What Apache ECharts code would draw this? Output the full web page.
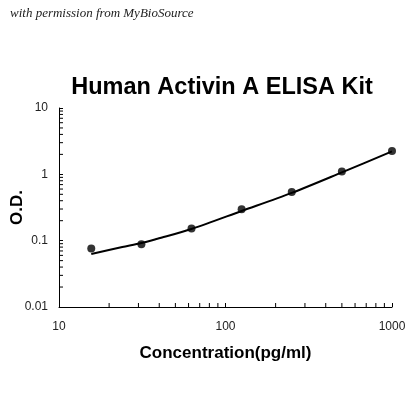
<!DOCTYPE html>
<html style="height: 100%">
<head>
<meta charset="utf-8">
<script src="https://cdn.jsdelivr.net/npm/echarts@6/dist/echarts.min.js"></script>
<title>Human Activin A ELISA Kit</title>
</head>
<body style="height: 100%; margin: 0; background: #fff">
<div id="container" style="width: 420px; height: 420px"></div>
<script type="text/javascript">

// standard points
let conc = [15.625, 31.25, 62.5, 125, 250, 500, 1000]
let od = [0.076, 0.088, 0.152, 0.297, 0.543, 1.10, 2.25]

// fitted curve
let fitConc = [15.625, 24, 31.25, 39, 62.5, 125, 250, 500, 1000]
let fitOd = [0.063, 0.080, 0.092, 0.107, 0.150, 0.280, 0.525, 1.07, 2.22]

let xTicks = [10, 100, 1000]
let yTicks = [0.01, 0.1, 1, 10]
let minorSteps = [2, 3, 4, 5, 6, 7, 8, 9]

let points = conc.map((c, i) => [c, od[i]])
let fit = fitConc.map((c, i) => [c, fitOd[i]])

// minor tick positions, one per value inside each decade
let minorX = []
for (let d = 0; d < xTicks.length - 1; d++) {
    for (let s of minorSteps) minorX.push(xTicks[d] * s)
}
let minorY = []
for (let d = 0; d < yTicks.length - 1; d++) {
    for (let s of minorSteps) minorY.push(yTicks[d] * s)
}

let dom = document.getElementById("container")
let chart = echarts.init(dom)

chart.setOption({
    animation: false,
    backgroundColor: '#fff',
    graphic: [
        {
            type: 'text', left: 10, top: 7,
            style: {
                text: 'with permission from MyBioSource',
                font: 'italic 13px "Liberation Serif"',
                fill: '#222'
            }
        }
    ],
    title: {
        text: 'Human Activin A ELISA Kit',
        left: 217, top: 71, textAlign: 'center',
        textStyle: {fontFamily: 'Liberation Sans', fontWeight: 'bold', fontSize: 23.5, color: '#000'}
    },
    grid: {left: 59, right: 28, top: 108, bottom: 113, outerBoundsMode: 'none', containLabel: false},
    xAxis: {
        type: 'log', min: 10, max: 1000, logBase: 10,
        name: 'Concentration(pg/ml)', nameLocation: 'middle', nameGap: 38, nameMoveOverlap: false,
        nameTextStyle: {fontFamily: 'Liberation Sans', fontWeight: 'bold', fontSize: 17, color: '#000'},
        axisLine: {lineStyle: {color: '#000', width: 1}},
        axisTick: {inside: true, length: 4, lineStyle: {color: '#000'}},
        axisLabel: {fontFamily: 'Liberation Sans', fontSize: 12, color: '#222', margin: 14,
            formatter: v => String(v)},
        splitLine: {show: false}
    },
    yAxis: {
        type: 'log', min: 0.01, max: 10, logBase: 10,
        name: 'O.D.', nameLocation: 'middle', nameGap: 33, nameMoveOverlap: false,
        nameTextStyle: {fontFamily: 'Liberation Sans', fontWeight: 'bold', fontSize: 17, color: '#000'},
        axisLine: {show: true, lineStyle: {color: '#000', width: 1}},
        axisTick: {show: true, inside: true, length: 4, lineStyle: {color: '#000'}},
        axisLabel: {fontFamily: 'Liberation Sans', fontSize: 12, color: '#222', margin: 11,
            formatter: v => String(+v.toPrecision(3))},
        splitLine: {show: false}
    },
    series: [
        {
            type: 'custom',
            silent: true,
            data: minorX.map(v => [v, 0.01]),
            renderItem: (params, api) => {
                let p = api.coord([api.value(0), api.value(1)])
                return {type: 'line', shape: {x1: p[0], y1: p[1], x2: p[0], y2: p[1] - 4},
                    style: {stroke: '#000', lineWidth: 1}}
            },
            z: 1
        },
        {
            type: 'custom',
            silent: true,
            data: minorY.map(v => [10, v]),
            renderItem: (params, api) => {
                let p = api.coord([api.value(0), api.value(1)])
                return {type: 'line', shape: {x1: p[0], y1: p[1], x2: p[0] + 4, y2: p[1]},
                    style: {stroke: '#000', lineWidth: 1}}
            },
            z: 1
        },
        {
            type: 'line',
            data: fit,
            showSymbol: false,
            smooth: 0.3,
            lineStyle: {color: '#000', width: 2},
            z: 2
        },
        {
            type: 'scatter',
            data: points,
            symbol: 'circle',
            symbolSize: 8,
            itemStyle: {color: '#000'},
            z: 3
        }
    ]
}, true)

</script>
</body>
</html>
